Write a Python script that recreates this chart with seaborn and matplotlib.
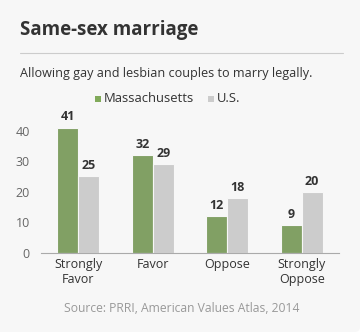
import matplotlib
matplotlib.use("Agg")
import matplotlib.pyplot as plt
from matplotlib.patches import FancyBboxPatch
from matplotlib.lines import Line2D
import seaborn as sns
import pandas as pd

categories = ["Strongly\nFavor", "Favor", "Oppose", "Strongly\nOppose"]
massachusetts = [41, 32, 12, 9]
us = [25, 29, 18, 20]
series_names = ["Massachusetts", "U.S."]
yticks = [0, 10, 20, 30, 40]

title = "Same-sex marriage"
subtitle = "Allowing gay and lesbian couples to marry legally."
source = "Source: PRRI, American Values Atlas, 2014"

green = "#81aa5a"
grey = "#cccccc"
card = "#f7f7f7"

sns.set_theme(style="white")
plt.rcParams["font.family"] = ["Open Sans", "DejaVu Sans"]

df = pd.DataFrame({
    "category": categories * 2,
    "value": massachusetts + us,
    "series": [series_names[0]] * len(categories) + [series_names[1]] * len(categories),
})

W, H = 363, 335
fig = plt.figure(figsize=(W / 100, H / 100), dpi=100, facecolor="white")

px = lambda x: x / W
py = lambda y: 1 - y / H

# rounded card behind everything
fig.patches.append(FancyBboxPatch((px(-10), py(332)), px(360) - px(-10), py(-10) - py(332),
                                  boxstyle="round,pad=0,rounding_size=0.015",
                                  transform=fig.transFigure, facecolor=card,
                                  edgecolor="none", zorder=-5))

ax_bottom = 252.7
unit_px = 3.05
ymax = 45
ax = fig.add_axes([px(41), (H - ax_bottom) / H, px(339) - px(41), ymax * unit_px / H])
ax.set_facecolor("none")
ax.set_zorder(2)

sns.barplot(data=df, x="category", y="value", hue="series",
            palette=[green, grey], width=0.56, gap=0.0,
            edgecolor=card, linewidth=0.8, ax=ax, legend=False)

for cont in ax.containers:
    ax.bar_label(cont, padding=3, fontsize=9, fontweight="bold", color="#333333")

ax.set_xlim(-0.5, 3.5)
ax.set_ylim(0, ymax)
ax.set_yticks(yticks)
ax.set_xlabel("")
ax.set_ylabel("")
for s in ["top", "right", "left"]:
    ax.spines[s].set_visible(False)
ax.spines["bottom"].set_color("#aaaaaa")
ax.spines["bottom"].set_linewidth(0.8)
ax.tick_params(axis="y", length=0, pad=8, labelsize=9, labelcolor="#666666")
ax.tick_params(axis="x", length=0, pad=4, labelsize=9, labelcolor="#333333")
for lbl in ax.get_xticklabels():
    lbl.set_linespacing(1.2)

# header
fig.text(px(20), py(30), title, fontsize=13.5, fontweight="bold", color="#333333",
         ha="left", va="center")
fig.add_artist(Line2D([px(20), px(343)], [py(53), py(53)], color="#cccccc", lw=0.8,
                      transform=fig.transFigure))
fig.text(px(20), py(74), subtitle, fontsize=9.1, color="#333333", ha="left", va="center")

# legend
leg_y = py(98.5)
for sx, col, name in [(95, green, series_names[0]), (208, grey, series_names[1])]:
    fig.patches.append(plt.Rectangle((px(sx), leg_y - 3 / H), 6 / W, 6 / H,
                                     transform=fig.transFigure, facecolor=col,
                                     edgecolor="none"))
    fig.text(px(sx + 9), leg_y, name, fontsize=9.4, color="#333333", ha="left", va="center")

fig.text(px(182), py(308), source, fontsize=8.7, color="#999999", ha="center", va="center")

fig.savefig("out.png", dpi=100, facecolor="white")
